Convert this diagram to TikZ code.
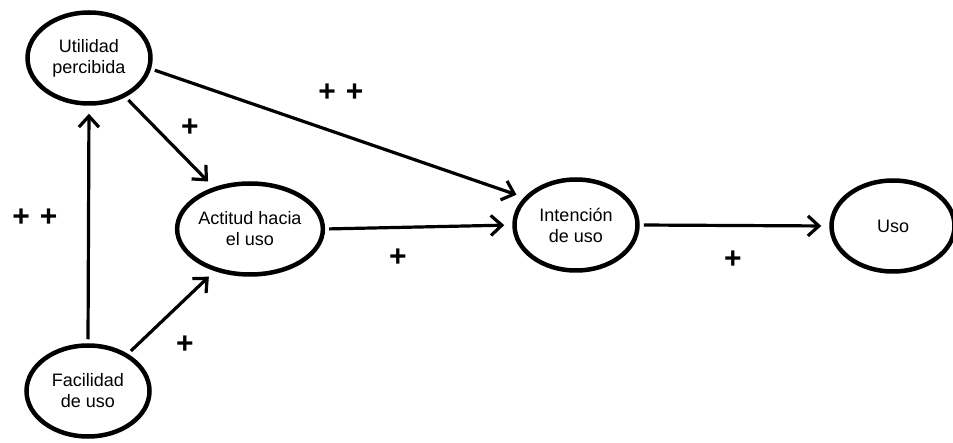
\documentclass[tikz,border=0pt]{standalone}
\usepackage{fontspec}
\setmainfont{Liberation Sans}
\usetikzlibrary{shapes.geometric,arrows.meta}
\begin{document}
\begin{tikzpicture}[x=1pt,y=-1pt,
  cons/.style={ellipse, draw, line width=4.5pt, minimum width=123pt, minimum height=91pt, inner sep=0pt, align=center, font=\fontsize{18}{21}\selectfont},
  conn/.style={line width=3.2pt, -{Straight Barb[length=11pt,width=20pt]}, shorten >=8pt, shorten <=4pt},
  sign/.style={font=\fontsize{30}{30}\bfseries\selectfont, inner sep=0pt}
]
\useasboundingbox (0,0) rectangle (953,443);
\node[cons] (util) at (89,58) {Utilidad\\percibida};
\node[cons] (act) at (250,229) {Actitud hacia\\el uso};
\node[cons] (fac) at (88,391) {Facilidad\\de uso};
\node[cons] (inten) at (576,225) {Intención\\de uso};
\node[cons] (uso) at (893,226) {Uso};

\draw[conn] (util.-10) -- (inten.152);
\draw[conn] (util.-47) -- (act.131);
\draw[conn] (fac.north) -- (util.south);
\draw[conn] (fac.43) -- (act.230);
\draw[conn] (act.east) -- (inten.west);
\draw[conn] (inten.east) -- (uso.west);

\node[sign] (s1) at (341,93) {+\hspace{10pt}+};
\node[sign] (s2) at (190,128) {+};
\node[sign] (s3) at (35,218) {+\hspace{10pt}+};
\node[sign] (s4) at (185,345) {+};
\node[sign] (s5) at (398,258) {+};
\node[sign] (s6) at (733,260) {+};
\end{tikzpicture}
\end{document}
